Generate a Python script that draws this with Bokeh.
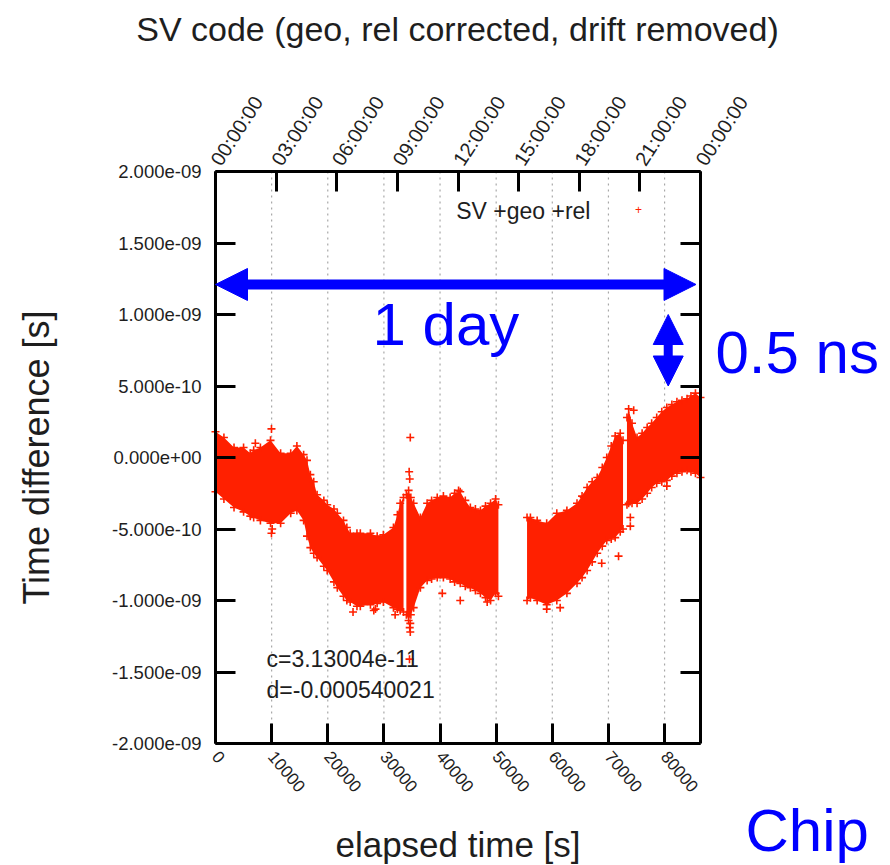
import math
from bokeh.plotting import figure
from bokeh.models import (Range1d, LinearAxis, FixedTicker, CustomJSTickFormatter,
                          Label, Arrow, NormalHead)
from bokeh.embed import file_html
from bokeh.resources import INLINE

NS = 1e-9
RED = "#ff2000"
BLUE = "#0000ff"
INK = "#1e1e1e"
FONT = "Liberation Sans"

# --- measured time difference envelope [ns] per continuous block of data ---
block1_t = [0, 1500, 3300, 5000, 6200, 6800, 8000, 9800, 11600, 13400, 14500, 15700,
            16300, 16900, 17500, 18100, 19300, 19900, 21100, 21700, 22800, 23400, 24000,
            25200, 25800, 27600, 28800, 29900, 31700, 32400, 32900, 33500]
block1_hi = [0.18, 0.14, 0.07, 0.07, 0.03, 0.05, 0.07, 0.12, 0.03, 0.03, 0.08, 0.02,
             -0.02, -0.12, -0.17, -0.26, -0.30, -0.33, -0.36, -0.39, -0.44, -0.49, -0.53,
             -0.53, -0.53, -0.53, -0.55, -0.54, -0.49, -0.40, -0.32, -0.28]
block1_lo = [-0.24, -0.29, -0.35, -0.38, -0.41, -0.42, -0.44, -0.46, -0.46, -0.39, -0.37, -0.44,
             -0.55, -0.63, -0.67, -0.70, -0.76, -0.79, -0.87, -0.91, -0.97, -1.00, -1.01,
             -1.04, -1.04, -1.03, -1.02, -1.01, -1.05, -1.06, -1.07, -1.08]

block2_t = [34000, 34400, 34800, 35300, 36500, 37700, 38500, 39500, 40600, 41800, 42600,
            43600, 44500, 45400, 46300, 47200, 48100, 49000, 49900, 50400]
block2_hi = [-0.26, -0.23, -0.28, -0.32, -0.42, -0.32, -0.30, -0.28, -0.27, -0.28, -0.25,
             -0.24, -0.30, -0.35, -0.36, -0.37, -0.34, -0.32, -0.29, -0.33]
block2_lo = [-1.10, -1.14, -1.10, -1.05, -0.91, -0.86, -0.85, -0.84, -0.84, -0.85, -0.87,
             -0.88, -0.90, -0.91, -0.93, -0.95, -0.98, -1.00, -0.95, -0.97]

block3_t = [55500, 56100, 57300, 59000, 60800, 62600, 64400, 65300, 66200, 67100, 68000,
            68900, 69700, 70500, 71200, 72100, 72600]
block3_hi = [-0.42, -0.42, -0.44, -0.46, -0.39, -0.37, -0.32, -0.27, -0.21, -0.17, -0.14,
             -0.07, 0.00, 0.08, 0.15, 0.17, 0.12]
block3_lo = [-1.00, -0.98, -1.00, -1.03, -1.00, -0.95, -0.88, -0.84, -0.79, -0.73, -0.67,
             -0.62, -0.58, -0.57, -0.56, -0.52, -0.50]

block4_t = [73300, 73600, 74200, 75100, 76000, 76900, 77700, 78600, 79500, 80400, 81300,
            82200, 83100, 84000, 84700, 85500, 86400]
block4_hi = [0.28, 0.34, 0.24, 0.14, 0.17, 0.21, 0.24, 0.28, 0.32, 0.35, 0.37,
             0.39, 0.40, 0.41, 0.43, 0.45, 0.42]
block4_lo = [-0.33, -0.32, -0.32, -0.32, -0.29, -0.25, -0.21, -0.18, -0.17, -0.16, -0.13,
             -0.11, -0.10, -0.09, -0.10, -0.11, -0.14]

# isolated samples outside the dense band
outlier_t = [7100, 9970, 9970, 10100, 24500, 28200, 28500, 32000, 34500, 34600, 34700,
             34700, 34600, 34700, 34560, 40400, 43300, 43600, 48400, 59000, 61400, 65600,
             68800, 71800, 73900, 73900, 74500, 80400]
outlier_ns = [0.10, 0.20, -0.53, -0.50, -1.08, -1.07, -1.06, -1.10, -0.10, -0.15, 0.14,
              -1.16, -1.19, -1.22, -1.41, -0.95, -0.23, -1.00, -1.01, -1.06, -1.05, -0.28,
              -0.74, -0.69, -0.42, -0.48, 0.33, -0.20]

blocks = [(block1_t, block1_hi, block1_lo), (block2_t, block2_hi, block2_lo),
          (block3_t, block3_hi, block3_lo), (block4_t, block4_hi, block4_lo)]

# --- axes ---
T_MIN, T_MAX = 0, 86400
V_MIN, V_MAX = -2 * NS, 2 * NS
x_ticks = [0, 10000, 20000, 30000, 40000, 50000, 60000, 70000, 80000]
x_tick_labels = ["0", "10000", "20000", "30000", "40000", "50000", "60000", "70000", "80000"]
top_ticks = [0, 10800, 21600, 32400, 43200, 54000, 64800, 75600, 86400]
top_tick_labels = ["00:00:00", "03:00:00", "06:00:00", "09:00:00", "12:00:00",
                   "15:00:00", "18:00:00", "21:00:00", "00:00:00"]
y_ticks_ns = [-2.0, -1.5, -1.0, -0.5, 0.0, 0.5, 1.0, 1.5, 2.0]
y_tick_labels = ["-2.000e-09", "-1.500e-09", "-1.000e-09", "-5.000e-10", "0.000e+00",
                 "5.000e-10", "1.000e-09", "1.500e-09", "2.000e-09"]
y_ticks = [v * NS for v in y_ticks_ns]

LOOKUP = """
let best = 0;
for (let i = 0; i < tick_values.length; i++) {
  if (Math.abs(tick_values[i] - tick) < Math.abs(tick_values[best] - tick)) { best = i; }
}
return tick_texts[best];
"""


def lookup_formatter(values, texts):
    return CustomJSTickFormatter(args=dict(tick_values=values, tick_texts=texts), code=LOOKUP)


# The canvas is one large frame; the plot box (0..86400 s, +-2 ns) sits inside it
# at 215..700 px horizontally and 171..743 px vertically, leaving room for the
# title and the notes drawn around the box.
W, H = 890, 865
BOX_L, BOX_R, BOX_T, BOX_B = 215, 700, 171, 743
sx = (T_MAX - T_MIN) / (BOX_R - BOX_L)
sy = (V_MAX - V_MIN) / (BOX_B - BOX_T)
x_range = Range1d(T_MIN - BOX_L * sx, T_MAX + (W - BOX_R) * sx)
y_range = Range1d(V_MIN - (H - BOX_B) * sy, V_MAX + BOX_T * sy)

p = figure(width=W, height=H, x_range=x_range, y_range=y_range,
           output_backend="svg", toolbar_location=None, title_location=None,
           x_axis_location=None, y_axis_location=None,
           background_fill_color="white", border_fill_color="white",
           outline_line_color=None)
p.min_border = 0
for g in p.grid:
    g.visible = False


def style_axis(ax, label_size="18px"):
    ax.axis_line_color = "black"
    ax.axis_line_width = 3
    ax.major_tick_line_color = "black"
    ax.major_tick_line_width = 3
    ax.major_tick_in = 20
    ax.major_tick_out = 0
    ax.minor_tick_line_color = None
    ax.major_label_text_font = FONT
    ax.major_label_text_font_size = label_size
    ax.major_label_text_color = INK
    ax.axis_label_text_font = FONT
    ax.axis_label_text_font_style = "normal"
    ax.axis_label_text_color = INK


xticker = FixedTicker(ticks=x_ticks)
yticker = FixedTicker(ticks=y_ticks)

# dotted vertical grid at the elapsed-time ticks
p.segment(x0=x_ticks, y0=[V_MIN] * len(x_ticks), x1=x_ticks, y1=[V_MAX] * len(x_ticks),
          line_color="#a8a8a8", line_dash="2 4", line_width=1.2)

# --- data: dense band plus individual samples ---
for t, hi, lo in blocks:
    hi_s = [v * NS for v in hi]
    lo_s = [v * NS for v in lo]
    p.varea(x=t, y1=lo_s, y2=hi_s, fill_color=RED)
    p.scatter(t + t, hi_s + lo_s, marker="cross", size=8, line_color=RED, line_width=1.6)
p.scatter(outlier_t, [v * NS for v in outlier_ns], marker="cross", size=8,
          line_color=RED, line_width=1.6)

bottom = LinearAxis(ticker=xticker, formatter=lookup_formatter(x_ticks, x_tick_labels),
                    axis_label="elapsed time [s]", fixed_location=V_MIN, bounds=(T_MIN, T_MAX))
style_axis(bottom, "17px")
bottom.major_label_orientation = -math.radians(50)
bottom.major_label_standoff = 10
bottom.axis_label_text_font_size = "35px"
bottom.axis_label_standoff = 25
p.add_layout(bottom, "below")

top = LinearAxis(ticker=FixedTicker(ticks=top_ticks),
                 formatter=lookup_formatter(top_ticks, top_tick_labels),
                 fixed_location=V_MAX, bounds=(T_MIN, T_MAX))
style_axis(top, "20px")
top.major_label_orientation = math.radians(57)
top.major_label_standoff = 8
p.add_layout(top, "above")

left = LinearAxis(ticker=yticker, formatter=lookup_formatter(y_ticks, y_tick_labels),
                  axis_label="Time difference [s]", fixed_location=T_MIN, bounds=(V_MIN, V_MAX))
style_axis(left, "18.5px")
left.major_label_standoff = 14
left.axis_label_text_font_size = "36px"
left.axis_label_standoff = 52
p.add_layout(left, "left")

right = LinearAxis(ticker=yticker, formatter=CustomJSTickFormatter(code="return '';"),
                   fixed_location=T_MAX, bounds=(V_MIN, V_MAX))
style_axis(right)
p.add_layout(right, "right")

# --- key and fit annotations ---
p.add_layout(Label(x=66800, y=1.727 * NS, text="SV +geo +rel", text_align="right",
                   text_baseline="middle", text_font=FONT, text_font_size="23px", text_color=INK))
p.add_layout(Label(x=75350, y=1.734 * NS, text="+", text_align="center",
                   text_baseline="middle", text_font=FONT, text_font_size="12px", text_color=RED))
p.add_layout(Label(x=9085, y=-1.406 * NS, text="c=3.13004e-11", text_baseline="middle",
                   text_font=FONT, text_font_size="23px", text_color=INK))
p.add_layout(Label(x=9085, y=-1.629 * NS, text="d=-0.000540021", text_baseline="middle",
                   text_font=FONT, text_font_size="23px", text_color=INK))

# title
p.add_layout(Label(x=43110, y=3.0 * NS, text="SV code (geo, rel corrected, drift removed)",
                   text_align="center", text_baseline="alphabetic",
                   text_font=FONT, text_font_size="34px", text_color=INK))

# --- blue markup ---
p.add_layout(Arrow(start=NormalHead(size=32, fill_color=BLUE, line_color=BLUE),
                   end=NormalHead(size=32, fill_color=BLUE, line_color=BLUE),
                   x_start=0, y_start=1.21 * NS, x_end=85600, y_end=1.21 * NS,
                   line_color=BLUE, line_width=10))
p.add_layout(Arrow(start=NormalHead(size=30, fill_color=BLUE, line_color=BLUE),
                   end=NormalHead(size=30, fill_color=BLUE, line_color=BLUE),
                   x_start=80650, y_start=1.0 * NS, x_end=80650, y_end=0.5 * NS,
                   line_color=BLUE, line_width=9))
p.add_layout(Label(x=27970, y=0.93 * NS, text="1 day", text_baseline="alphabetic",
                   text_font=FONT, text_font_size="60px", text_color=BLUE))
p.add_layout(Label(x=89070, y=0.734 * NS, text="0.5 ns", text_baseline="alphabetic",
                   text_font=FONT, text_font_size="60px", text_color=BLUE))
p.add_layout(Label(x=94410, y=-2.61 * NS, text="Chip", text_baseline="alphabetic",
                   text_font=FONT, text_font_size="60px", text_color=BLUE))

open("out.html", "w").write(file_html(p, INLINE))
